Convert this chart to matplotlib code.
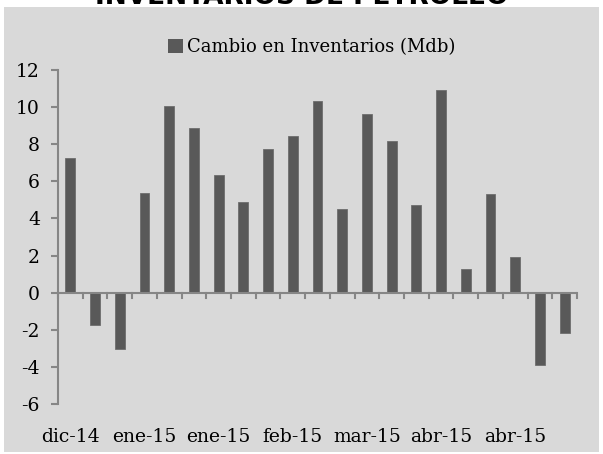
import matplotlib
matplotlib.use("Agg")
import matplotlib.pyplot as plt
from matplotlib.patches import Rectangle

values = [7.26, -1.73, -3.04, 5.37, 10.06, 8.87, 6.34, 4.86, 7.72, 8.42,
          10.31, 4.50, 9.63, 8.19, 4.75, 10.94, 1.29, 5.32, 1.92, -3.89, -2.18]
tick_labels = ["dic-14", "ene-15", "ene-15", "feb-15", "mar-15", "abr-15", "abr-15"]
label_every = 3
series_name = "Cambio en Inventarios (Mdb)"
title = "INVENTARIOS DE PETRÓLEO"
yticks = [-6, -4, -2, 0, 2, 4, 6, 8, 10, 12]

W, H = 603, 454
fig = plt.figure(figsize=(W / 100, H / 100), dpi=100)
fig.patch.set_facecolor("white")
fig.patches.append(Rectangle((4 / W, 2 / H), 595 / W, 445 / H, transform=fig.transFigure,
                             facecolor="#d9d9d9", edgecolor="none", zorder=-5))

fig.text(0.5, 1 - 4 / H, title, ha="center", va="baseline", fontsize=19,
         fontweight="bold", family="DejaVu Sans", color="black")

ax = fig.add_axes([58 / W, 50 / H, 519 / W, 334 / H])
ax.set_zorder(2)
ax.set_facecolor("none")
n = len(values)
x = list(range(n))
ax.bar(x, values, width=0.4, color="#595959", edgecolor="#6e6e6e", linewidth=0.6, zorder=3)

ax.set_xlim(-0.5, n - 0.5)
ax.set_ylim(-6, 12)
ax.set_yticks(yticks)
ax.set_yticklabels([str(v) for v in yticks])

for s in ["top", "right", "bottom"]:
    ax.spines[s].set_visible(False)
ax.spines["left"].set_color("#868686")
ax.spines["left"].set_linewidth(1.5)
ax.axhline(0, color="#868686", linewidth=1.5, zorder=4)

# category boundary ticks along zero line
for b in range(n + 1):
    ax.plot([b - 0.5, b - 0.5], [0, -0.3], color="#868686", linewidth=1.5, zorder=4, clip_on=False)

ax.set_xticks([i * label_every for i in range(len(tick_labels))])
ax.set_xticklabels(tick_labels)
ax.tick_params(axis="x", length=0, pad=17)
ax.tick_params(axis="y", length=5, width=1.5, color="#868686", pad=8)
for lab in ax.get_xticklabels() + ax.get_yticklabels():
    lab.set_family("DejaVu Serif")
    lab.set_fontsize(13.5)
    lab.set_color("black")

leg = fig.legend(handles=[Rectangle((0, 0), 1, 1, facecolor="#595959")], labels=[series_name],
                 loc="center", bbox_to_anchor=(312 / W, 1 - 47 / H), frameon=False,
                 prop={"family": "DejaVu Serif", "size": 13}, handlelength=0.8,
                 handleheight=0.8, handletextpad=0.25)

fig.savefig("out.png", dpi=100, facecolor="white")
